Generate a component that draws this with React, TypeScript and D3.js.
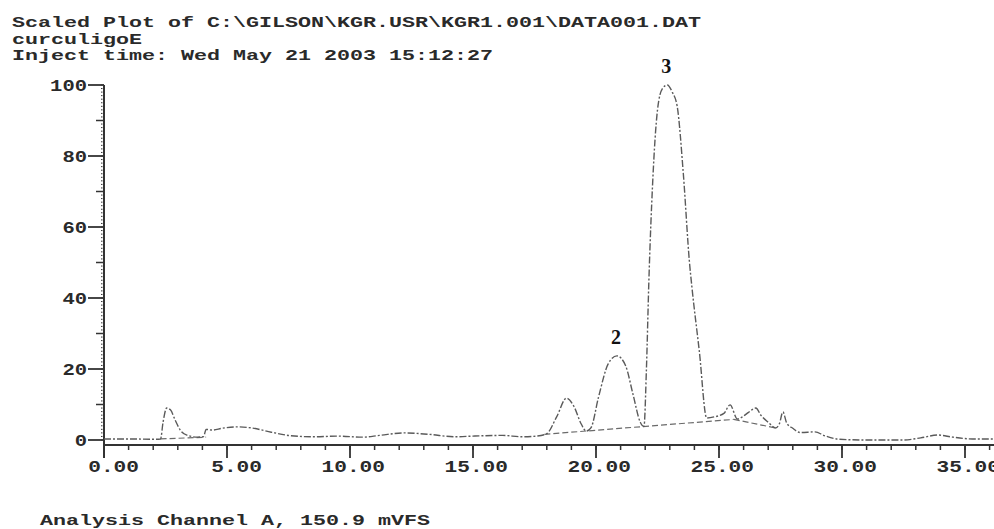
import * as d3 from "d3";

// chromatogram trace (time in min, scaled signal %)
const times = [
  0, 1, 2, 2.3, 2.4, 2.55, 2.7, 2.9, 3.1, 3.4, 3.8, 4.05, 4.15, 4.4, 4.8, 5.4, 6.0, 6.8, 7.6, 8.5,
  9.5, 10.5, 11.2, 12.2, 13.2, 14.3, 15.0, 16.2, 17.0, 17.6, 18.0, 18.4, 18.8, 19.1, 19.4, 19.6,
  19.8, 20.1, 20.5, 20.85, 21.2, 21.5, 21.8, 21.95, 22.05, 22.15, 22.3, 22.5, 22.7, 22.9, 23.1,
  23.3, 23.55, 23.8, 23.9, 24.2, 24.5, 24.8, 25.2, 25.45, 25.75, 25.95, 26.2, 26.5, 26.7, 27.0,
  27.3, 27.45, 27.6, 27.75, 28.0, 28.3, 28.9, 29.3, 29.9, 31.0, 32.5, 33.2, 33.9, 34.5, 35.3, 36.3,
];
const signal = [
  0.3, 0.3, 0.2, 0.3, 5, 9, 8.5, 5.5, 2.8, 1.3, 0.8, 1.0, 3.0, 2.8, 3.3, 3.7, 3.4, 2.2, 1.2, 0.9,
  1.1, 0.8, 1.3, 2.0, 1.6, 0.9, 1.1, 1.3, 0.9, 1.1, 1.8, 6.5, 11.8, 9.5, 4.5, 2.5,
  3.5, 12, 21.5, 23.7, 21, 13, 5, 3.8, 20, 45, 72, 93, 99, 100, 98,
  94, 75, 50, 43, 25, 6.2, 6.5, 7.5, 9.9, 5.9, 6.5, 7.8, 9, 7, 5,
  3.4, 4.5, 7.9, 4.8, 3.3, 2.1, 2.3, 1.2, 0.2, 0.0, 0.0, 0.6, 1.4, 0.8, 0.3, 0.3,
];

// integration baselines drawn under the peaks
const baseA = [[2.3, 0.3], [4.15, 0.8]];
const baseB = [[17.9, 1.6], [25.6, 5.8]];
const baseC = [[25.6, 5.8], [27.3, 3.4]];

const xMajor = [0, 5, 10, 15, 20, 25, 30, 35];
const yMajor = [0, 20, 40, 60, 80, 100];

const peakLabels = [
  { label: "2", t: 20.85, v: 23.7 },
  { label: "3", t: 22.9, v: 100 },
];

const titleLines = [
  "Scaled Plot of C:\\GILSON\\KGR.USR\\KGR1.001\\DATA001.DAT",
  "curculigoE",
  "Inject time: Wed May 21 2003 15:12:27",
];
const footer = "Analysis Channel A, 150.9 mVFS";

const W = 994;
const H = 529;
const mono = "'Liberation Mono', 'Courier New', monospace";
const ink = "#2a2a2a";

export default function App() {
  const x = d3.scaleLinear().domain([0, 35]).range([104, 965]);
  const y = d3.scaleLinear().domain([0, 100]).range([440, 85]);
  const axisY = 445;

  const pts = times.map((t, i) => [t, signal[i]] as [number, number]);
  const line = d3
    .line<[number, number]>()
    .x((d) => x(d[0]))
    .y((d) => y(d[1]))
    .curve(d3.curveMonotoneX);
  const straight = d3
    .line<number[]>()
    .x((d) => x(d[0]))
    .y((d) => y(d[1]));

  const xMinor = d3.range(0, 37, 1);
  const yMinor = d3.range(0, 101, 1);
  const yMid = d3.range(10, 100, 20);

  return (
    <div style={{ position: "absolute", left: 0, top: 0 }}>
      <svg width={W} height={H} viewBox={`0 0 ${W} ${H}`} style={{ display: "block", background: "#fff" }}>
        {/* header */}
        <g fontFamily={mono} fontWeight="bold" fill={ink} fontSize={14.5}>
          {titleLines.map((s, i) => (
            <text
              key={i}
              x={12}
              y={27 + i * 16.5}
              textLength={s.length * 13}
              lengthAdjust="spacingAndGlyphs"
            >
              {s}
            </text>
          ))}
        </g>

        {/* y axis */}
        <g stroke="#333">
          <line x1={x(0)} x2={x(0)} y1={y(100)} y2={458} strokeWidth={2} />
          {yMinor.map((v) => (
            <line key={"ym" + v} x1={x(0) - 3} x2={x(0)} y1={y(v)} y2={y(v)} strokeWidth={1} strokeDasharray="1.5 0.5" />
          ))}
          {yMid.map((v) => (
            <line key={"yd" + v} x1={x(0) - 8} x2={x(0)} y1={y(v)} y2={y(v)} strokeWidth={1.5} />
          ))}
          {yMajor.map((v) => (
            <line key={"yM" + v} x1={x(0) - 16} x2={x(0)} y1={y(v)} y2={y(v)} strokeWidth={1.8} />
          ))}
        </g>
        <g fontFamily={mono} fontWeight="bold" fill={ink} fontSize={16} textAnchor="end">
          {yMajor.map((v) => (
            <text
              key={v}
              x={x(0) - 17}
              y={y(v) + 5.5}
              textLength={String(v).length * 12.3}
              lengthAdjust="spacingAndGlyphs"
            >
              {v}
            </text>
          ))}
        </g>

        {/* x axis */}
        <g stroke="#333">
          <line x1={x(0)} x2={W} y1={axisY} y2={axisY} strokeWidth={2} />
          {xMinor.map((t) => (
            <line key={"xm" + t} x1={x(t)} x2={x(t)} y1={axisY} y2={axisY + 5} strokeWidth={1.5} />
          ))}
          {xMajor.map((t) => (
            <line key={"xM" + t} x1={x(t)} x2={x(t)} y1={axisY} y2={axisY + 13} strokeWidth={1.8} />
          ))}
        </g>
        <g fontFamily={mono} fontWeight="bold" fill={ink} fontSize={16} textAnchor="end">
          {xMajor.map((t) => {
            const s = t.toFixed(2);
            return (
              <text
                key={t}
                x={x(t) + 35}
                y={472}
                textLength={s.length * 12.7}
                lengthAdjust="spacingAndGlyphs"
              >
                {s}
              </text>
            );
          })}
        </g>

        {/* baselines */}
        <g fill="none" stroke="#6a6a6a" strokeWidth={1.2} strokeDasharray="6 3">
          {[baseA, baseB, baseC].map((b, i) => (
            <path key={i} d={straight(b) || ""} />
          ))}
        </g>

        {/* trace */}
        <path
          d={line(pts) || ""}
          fill="none"
          stroke="#5a5a5a"
          strokeWidth={1.4}
          strokeDasharray="7 2 2 2"
        />

        {/* peak numbers */}
        <g fontFamily="'Liberation Serif', 'Times New Roman', serif" fontWeight="bold" fontSize={20} fill="#111" textAnchor="middle">
          {peakLabels.map((p) => (
            <text key={p.label} x={x(p.t) - 1} y={y(p.v) - 12}>
              {p.label}
            </text>
          ))}
        </g>

        {/* footer */}
        <text
          x={40}
          y={525}
          fontFamily={mono}
          fontWeight="bold"
          fill={ink}
          fontSize={15.5}
          textLength={footer.length * 13}
          lengthAdjust="spacingAndGlyphs"
        >
          {footer}
        </text>
      </svg>
    </div>
  );
}
